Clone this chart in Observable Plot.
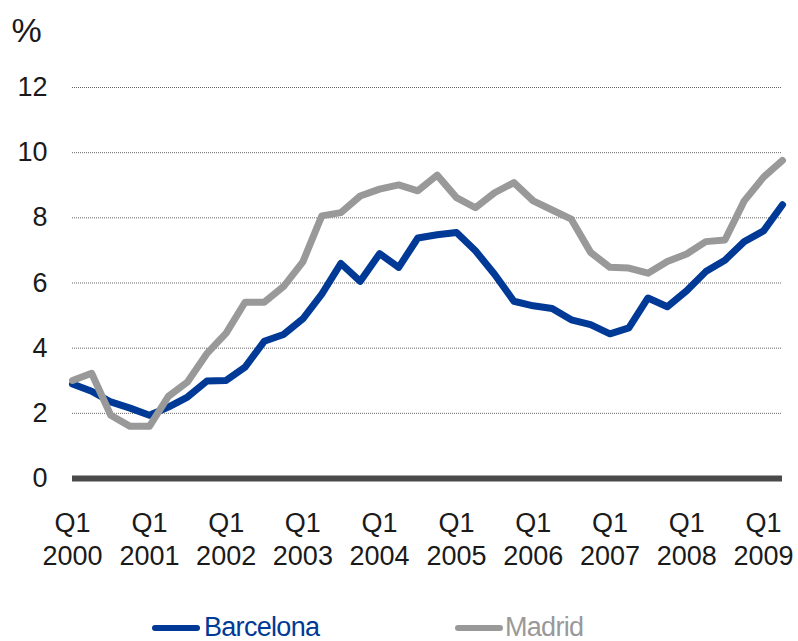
<!DOCTYPE html>
<html><head><meta charset="utf-8">
<script src="https://cdn.jsdelivr.net/npm/d3@7"></script>
<script src="https://cdn.jsdelivr.net/npm/@observablehq/plot@0.6"></script>
<style>
body{margin:0;background:#fff;font-family:"Liberation Sans",Arial,sans-serif}
#wrap{position:relative;width:798px;height:641px;overflow:hidden;background:#fff}
#wrap svg{display:block}
.item{position:absolute;top:614px;height:28px;font-size:27px;line-height:27px;white-space:nowrap;letter-spacing:-0.7px}
.sw{position:absolute;height:6px;border-radius:3px}
</style></head>
<body><div id="wrap"></div>
<script>
const quarters = ["2000Q1","2000Q2","2000Q3","2000Q4","2001Q1","2001Q2","2001Q3","2001Q4",
"2002Q1","2002Q2","2002Q3","2002Q4","2003Q1","2003Q2","2003Q3","2003Q4",
"2004Q1","2004Q2","2004Q3","2004Q4","2005Q1","2005Q2","2005Q3","2005Q4",
"2006Q1","2006Q2","2006Q3","2006Q4","2007Q1","2007Q2","2007Q3","2007Q4",
"2008Q1","2008Q2","2008Q3","2008Q4","2009Q1","2009Q2"];
const barcelona = [2.9,2.68,2.35,2.16,1.94,2.19,2.5,2.99,3.01,3.42,4.21,4.42,4.9,5.66,6.6,6.05,6.9,6.48,7.38,7.48,7.55,6.99,6.27,5.44,5.3,5.22,4.87,4.72,4.44,4.62,5.54,5.27,5.76,6.35,6.7,7.27,7.6,8.4];
const madrid = [3.01,3.23,1.94,1.6,1.6,2.52,2.96,3.83,4.46,5.41,5.41,5.89,6.65,8.06,8.16,8.67,8.88,9.01,8.83,9.31,8.62,8.31,8.77,9.08,8.52,8.24,7.96,6.94,6.48,6.46,6.3,6.66,6.89,7.27,7.32,8.52,9.25,9.76];
const seriesNames = ["Barcelona","Madrid"];
const seriesColors = ["#003a96","#999999"];
const yearTicks = ["2000","2001","2002","2003","2004","2005","2006","2007","2008","2009"];
const quarterTickLabel = "Q1";
const yTicks = [0,2,4,6,8,10,12];
const unitLabel = "%";

const parseQ = q => { const [y, qq] = q.split("Q"); return new Date(Date.UTC(+y, (+qq - 1) * 3, 1)); };
const seriesValues = [barcelona, madrid];
const rows = seriesNames.flatMap((name, s) => quarters.map((q, i) => ({series: name, date: parseQ(q), value: seriesValues[s][i]})));
const tickDates = yearTicks.map(y => new Date(Date.UTC(+y, 0, 1)));
const FONT = '"Liberation Sans", Arial, sans-serif';

const chart = Plot.plot({
  width: 798, height: 600,
  marginLeft: 72, marginRight: 16, marginTop: 87, marginBottom: 122,
  style: {fontFamily: FONT, fontSize: "27px", color: "#1a1a1a", background: "white", overflow: "visible"},
  x: {type: "utc", domain: [parseQ(quarters[0]), parseQ(quarters[quarters.length - 1])]},
  y: {domain: [0, 12]},
  color: {domain: seriesNames, range: seriesColors},
  marks: [
    Plot.gridY(yTicks.filter(d => d > 0), {stroke: "#666", strokeOpacity: 1, strokeWidth: 1, strokeDasharray: "1,1"}),
    Plot.axisY(yTicks, {tickSize: 0, tickPadding: 25, label: null, fontSize: 27, fill: "#1a1a1a"}),
    Plot.axisX(tickDates, {tickSize: 0, tickPadding: 34, label: null, fontSize: 27, fill: "#1a1a1a", tickFormat: () => quarterTickLabel}),
    Plot.axisX(tickDates, {tickSize: 0, tickPadding: 67, label: null, fontSize: 27, fill: "#1a1a1a", tickFormat: d => String(d.getUTCFullYear())}),
    Plot.ruleY([0], {stroke: "#4a4a4a", strokeWidth: 6}),
    Plot.line(rows, {x: "date", y: "value", stroke: "series", z: "series", strokeWidth: 7}),
    Plot.text([unitLabel], {frameAnchor: "top-left", dx: -61, dy: -46, textAnchor: "start", lineAnchor: "bottom", fontSize: 34, fill: "#1a1a1a"})
  ]
});
const wrap = document.getElementById("wrap");
wrap.appendChild(chart);

const legendPos = [{sw: 152, tx: 204}, {sw: 455, tx: 505}];
seriesNames.forEach((name, i) => {
  const sw = document.createElement("div");
  sw.className = "sw";
  sw.style.left = legendPos[i].sw + "px";
  sw.style.top = "625px";
  sw.style.width = "48px";
  sw.style.background = seriesColors[i];
  wrap.appendChild(sw);
  const t = document.createElement("div");
  t.className = "item";
  t.style.left = legendPos[i].tx + "px";
  t.style.color = seriesColors[i];
  t.textContent = name;
  wrap.appendChild(t);
});
</script>
</body></html>
